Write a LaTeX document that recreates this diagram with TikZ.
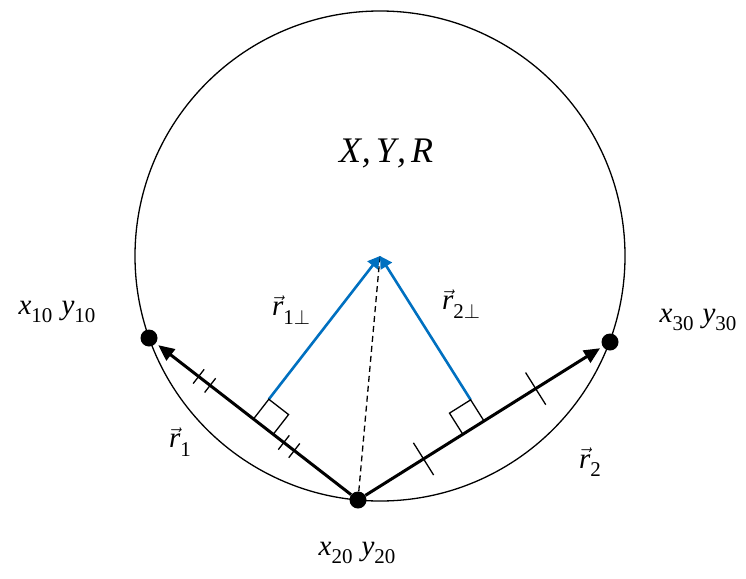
\documentclass[tikz,border=0pt]{standalone}
\usepackage{fontspec}
\setmainfont{Liberation Serif}[ItalicFont={Liberation Serif Italic}]
\usetikzlibrary{calc,arrows.meta}
\definecolor{vblue}{RGB}{0,112,192}
\newcommand{\lsub}[1]{\raisebox{-0.30em}{\fontsize{21}{21}\selectfont #1}}
\newcommand{\vecr}{\ensuremath{\vec{\mbox{\itshape r}}}}
\begin{document}
\begin{tikzpicture}[x=1pt,y=-1pt,
  thinline/.style={line width=1.3pt},
  vecarrow/.style={line width=3pt,-{Triangle[length=16pt,width=14pt]}},
  bluearrow/.style={vblue,line width=2.6pt,-{Triangle[length=12pt,width=13pt]}},
  dot/.style={circle,fill=black,inner sep=0pt,minimum size=17pt},
  lbl/.style={font=\fontsize{29}{29}\selectfont,inner sep=0pt},
  tickmark/.style={line width=1.3pt}]
\useasboundingbox (0,0) rectangle (746,578);
\coordinate (O) at (380,256);
\draw[thinline] (O) circle (245pt);
\node[dot] (P1) at (149,338) {};
\node[dot] (P2) at (358,500) {};
\node[dot] (P3) at (610,342) {};
\coordinate (F1) at ($(P1)!0.5!(P2)$);
\coordinate (F2) at ($(P2)!0.5!(P3)$);
% dashed
\draw[thinline,dashed,dash pattern=on 6pt off 4pt] (P2) -- (O);
% chord arrows
\draw[vecarrow,shorten >=3pt] (P2) -- (P1);
\draw[vecarrow,shorten >=3pt] (P2) -- (P3);
% right angle squares
\coordinate (A1) at ($(F1)!25pt!(P2)$);
\coordinate (B1) at ($(F1)!25pt!(O)$);
\coordinate (A2) at ($(F2)!25pt!(P2)$);
\coordinate (B2) at ($(F2)!25pt!(O)$);
\draw[bluearrow] (B1) -- (O);
\draw[bluearrow] (B2) -- (O);
\draw[thinline] (F1) -- (A1) -- ($(A1)+(B1)-(F1)$) -- (B1) -- cycle;
\draw[thinline] (F2) -- (A2) -- ($(A2)+(B2)-(F2)$) -- (B2) -- cycle;
% tick marks
\foreach \t in {0.475,0.585}{
  \coordinate (T) at ($(P1)!\t!(F1)$);
  \draw[tickmark] ($(T)!9pt!90:(P1)$) -- ($(T)!9pt!-90:(P1)$);}
\foreach \t in {0.29,0.39}{
  \coordinate (T) at ($(F1)!\t!(P2)$);
  \draw[tickmark] ($(T)!9pt!90:(P2)$) -- ($(T)!9pt!-90:(P2)$);}
\coordinate (T3) at ($(F2)!0.41!(P3)$);
\draw[tickmark] ($(T3)!19pt!90:(P3)$) -- ($(T3)!19pt!-90:(P3)$);
\coordinate (T4) at ($(P2)!0.52!(F2)$);
\draw[tickmark] ($(T4)!19pt!90:(F2)$) -- ($(T4)!19pt!-90:(F2)$);
% labels
\node[inner sep=0pt,font=\fontsize{36}{36}\selectfont] (XYR) at (386,153) {\itshape X\kern1pt,\kern5pt Y\kern1pt,\kern5pt R};
\node[lbl] (L1) at (57,312) {{\itshape x}\lsub{10}\hspace{9pt}{\itshape y}\lsub{10}};
\node[lbl] (L3) at (698,320) {{\itshape x}\lsub{30}\hspace{9pt}{\itshape y}\lsub{30}};
\node[lbl] (L2) at (357,553) {{\itshape x}\lsub{20}\hspace{9pt}{\itshape y}\lsub{20}};
\node[lbl] (R1p) at (291,310) {\vecr\lsub{1$\perp$}};
\node[lbl] (R2p) at (461,304) {\vecr\lsub{2$\perp$}};
\node[lbl] (R1) at (180,442) {\vecr\lsub{1}};
\node[lbl] (R2) at (590,462) {\vecr\lsub{2}};
\end{tikzpicture}
\end{document}
